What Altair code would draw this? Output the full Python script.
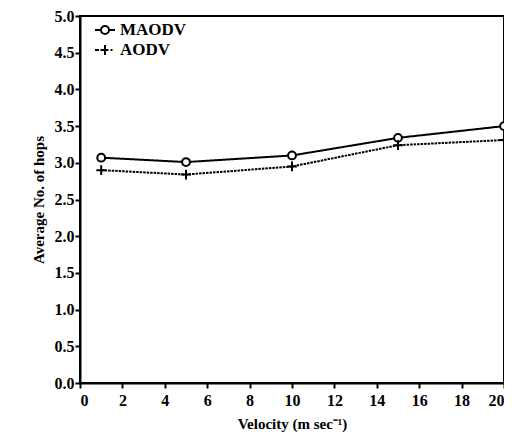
import altair as alt
import pandas as pd

velocity = [1, 5, 10, 15, 20]
maodv = [3.07, 3.01, 3.10, 3.34, 3.50]
aodv = [2.90, 2.84, 2.95, 3.24, 3.31]
series = ["MAODV", "AODV"]
x_ticks = list(range(0, 21, 2))
y_ticks = [i / 2 for i in range(0, 11)]

rows = []
for v, m, a in zip(velocity, maodv, aodv):
    rows.append({"velocity": v, "hops": m, "series": "MAODV"})
    rows.append({"velocity": v, "hops": a, "series": "AODV"})
df = pd.DataFrame(rows)

FONT = "Times New Roman"
CIRCLE = "M-0.4,0a0.4,0.4 0 1,0 0.8,0a0.4,0.4 0 1,0 -0.8,0Z"
PLUS = "M-0.5,0H0.5M0,-0.5V0.5"
LEG_M = "M-1,0H-0.4M0.4,0H1" + "M-0.4,0a0.4,0.4 0 1,0 0.8,0a0.4,0.4 0 1,0 -0.8,0Z"
LEG_A = "M-1,0H-0.6M-0.45,0H-0.1M0.1,0H0.35M0.55,0H0.75M0,-0.5V0.5"

x = alt.X("velocity:Q", scale=alt.Scale(domain=[0, 20], nice=False),
          axis=alt.Axis(values=x_ticks, title="Velocity (m sec\u207b\u00b9)", format="d"))
y = alt.Y("hops:Q", scale=alt.Scale(domain=[0, 5], nice=False),
          axis=alt.Axis(values=y_ticks, format=".1f", title="Average No. of hops"))

lines = alt.Chart(df).mark_line(color="black", strokeWidth=2).encode(
    x=x, y=y,
    strokeDash=alt.StrokeDash("series:N", scale=alt.Scale(domain=series, range=[[1, 0], [2.5, 1]]), legend=None),
    detail="series:N",
)

points = alt.Chart(df).mark_point(filled=False, color="black", strokeWidth=2, size=380, fill="white", fillOpacity=1).encode(
    x=x, y=y,
    shape=alt.Shape("series:N", scale=alt.Scale(domain=series, range=[CIRCLE, PLUS]), legend=None),
)

legend_layer = alt.Chart(df).mark_point(filled=False, color="black", strokeWidth=2, size=0).encode(
    x=x, y=y,
    shape=alt.Shape(
        "series:N",
        scale=alt.Scale(domain=series, range=[LEG_M, LEG_A]),
        legend=alt.Legend(
            title=None, orient="none", legendX=14, legendY=3,
            symbolSize=400, symbolStrokeWidth=2, symbolStrokeColor="black",
            symbolFillColor="white", symbolOpacity=1, labelFont=FONT, labelFontSize=17,
            labelFontWeight="bold", labelColor="black", rowPadding=1, labelOffset=4,
        ),
    ),
)

chart = (lines + points + legend_layer).resolve_scale(shape="independent").properties(
    width=424, height=367,
    autosize=alt.AutoSizeParams(type="none"),
    padding={"left": 72, "top": 8, "right": 0, "bottom": 54},
).configure_view(stroke="black", strokeWidth=2).configure_axis(
    grid=False, domainColor="black", domainWidth=2, tickColor="black", tickWidth=2, tickSize=5,
    labelFont=FONT, labelFontSize=16, labelFontWeight="bold", labelColor="black",
    titleFont=FONT, titleFontSize=15, titleFontWeight="bold", titleColor="black",
    labelPadding=1,
).configure_axisY(titlePadding=8).configure_axisX(titlePadding=8, labelPadding=4)

chart.save("out.html", embed_options={"renderer": "svg", "actions": False})
